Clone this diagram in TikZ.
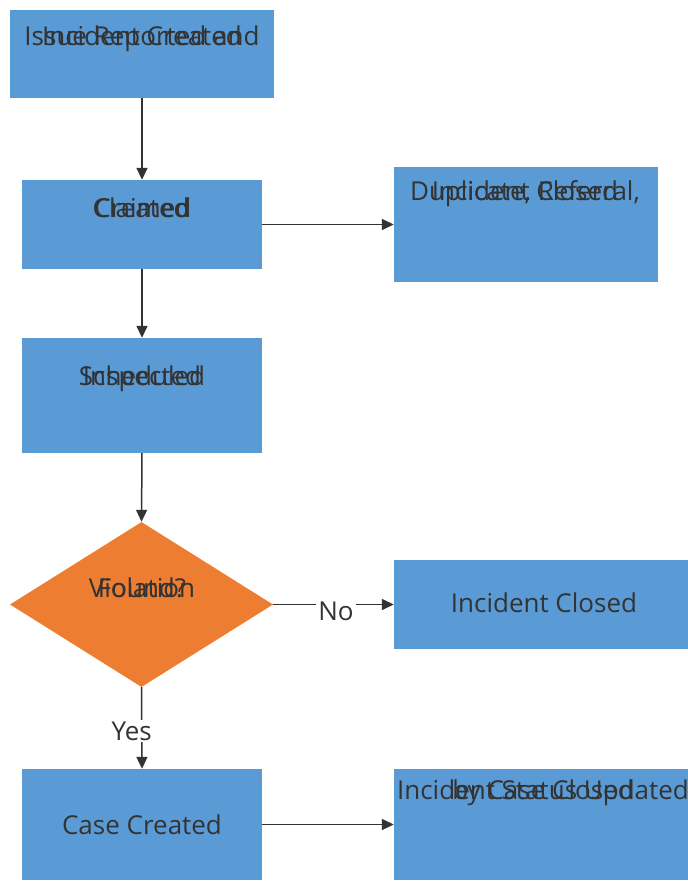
\documentclass[tikz,border=0pt]{standalone}
\usepackage{fontspec}
\setmainfont{Open Sans}
\usetikzlibrary{shapes.geometric,arrows.meta}

\definecolor{boxblue}{HTML}{5B9BD5}
\definecolor{decorange}{HTML}{ED7D31}
\definecolor{inkgray}{HTML}{333333}

% two texts set on top of each other
\newcommand{\overtext}[2]{\ooalign{\hfil#1\hfil\cr\hfil#2\hfil\cr}}

\tikzset{
  statebox/.style={rectangle,fill=boxblue,draw=none,inner sep=0pt},
  decision/.style={diamond,fill=decorange,draw=none,inner sep=0pt,aspect=1.6},
  boxtext/.style={text=inkgray,font=\fontsize{26}{30}\selectfont,inner sep=0pt},
  flow/.style={-{Triangle[length=12pt,width=11pt]},draw=inkgray,line width=1.5pt},
  flowlabel/.style={fill=white,text=inkgray,font=\fontsize{26}{30}\selectfont,inner sep=2pt}
}

\begin{document}
\begin{tikzpicture}[x=1pt,y=-1pt]

    \useasboundingbox[fill=white] (0,0) rectangle (688,881);

    % Boxes
    \node[statebox,minimum width=264pt,minimum height=88pt] (reported) at (142,54) {};
    \node[statebox,minimum width=240pt,minimum height=89pt] (claimed) at (142,224.5) {};
    \node[statebox,minimum width=264pt,minimum height=115pt] (closedearly) at (526,224.5) {};
    \node[statebox,minimum width=240pt,minimum height=115pt] (inspected) at (142,395.5) {};
    \node[decision,minimum width=263pt,minimum height=165pt] (violation) at (141.5,604.5) {};
    \node[statebox,minimum width=294pt,minimum height=89pt] (closed) at (541,604.5) {};
    \node[statebox,minimum width=240pt,minimum height=111pt] (case) at (142,824.5) {};
    \node[statebox,minimum width=294pt,minimum height=111pt] (updated) at (541,824.5) {};

    % Texts
    \node[boxtext] (reportedtxt) at (142,36) {\overtext{Issue Reported and}{Incident Created}};
    \node[boxtext] (claimedtxt) at (142,208) {\overtext{Claimed}{Created}};
    \node[boxtext] (closedearlytxt) at (525,191) {\overtext{Duplicate, Referral,}{Incident Closed}};
    \node[boxtext] (inspectedtxt) at (142,379) {\overtext{Scheduled}{Inspected}};
    \node[boxtext] (violationtxt) at (142,588) {\overtext{Violation}{Found?}};
    \node[boxtext] (closedtxt) at (544,603) {Incident Closed};
    \node[boxtext] (casetxt) at (142,825) {Case Created};
    \node[boxtext] (updatedtxt) at (543,793) {\overtext{Incident Status Updated}{by Case Closed}};

    % Connectors
    \draw[flow] (reported.south) -- (claimed.north);
    \draw[flow] (claimed.east) -- (closedearly.west |- claimed.east);
    \draw[flow] (claimed.south) -- (inspected.north);
    \draw[flow] (inspected.south) -- (violation.north);
    \draw[flow] (violation.east) -- (closed.west) node[flowlabel,pos=0.52,yshift=-7pt] (no) {No};
    \draw[flow] (violation.south) -- (case.north) node[flowlabel,midway,xshift=-10pt,yshift=-3pt] (yes) {Yes};
    \draw[flow] (case.east) -- (updated.west |- case.east);

\end{tikzpicture}
\end{document}
